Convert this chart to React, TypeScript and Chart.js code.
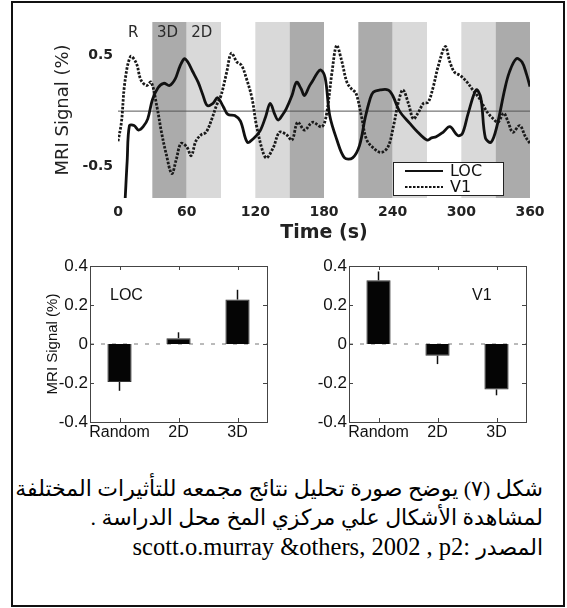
import React, { useEffect, useRef } from "react";
import { Chart, registerables } from "chart.js";

Chart.register(...registerables);
Chart.defaults.font.family = '"Liberation Sans", Arial, sans-serif';

const WIDE = '"DejaVu Sans", "Liberation Sans", sans-serif';

// ---------- Top time-course chart ----------
const timeTicks = [0, 60, 120, 180, 240, 300, 360];
const signalTicks = [-0.5, 0.5];
const blockStarts = [0, 30, 60, 90, 120, 150, 180, 210, 240, 270, 300, 330];
const blockConditions = ["R", "3D", "2D", "R", "2D", "3D", "R", "3D", "2D", "R", "2D", "3D"];
const labelledBlocks = 3;

const locTimes = [0, 5, 8, 10, 14, 18, 22, 26, 30, 35, 40, 45, 50, 54, 58, 61, 65, 70, 74, 78, 83, 87, 92, 96, 102, 107, 113, 118, 124, 129, 133, 137, 140, 144, 147, 152, 156, 160, 163, 167, 170, 174, 177, 181, 185, 191, 198, 205, 211, 216, 220, 223, 229, 236, 240, 246, 255, 262, 270, 274, 278, 284, 290, 297, 301, 306, 313, 317, 321, 326, 331, 338, 342, 348, 353, 357, 360];
const locValues = [-1.6, -1.0, -0.45, -0.13, -0.13, -0.17, -0.14, -0.07, 0.1, 0.21, 0.25, 0.23, 0.29, 0.4, 0.47, 0.44, 0.36, 0.26, 0.15, 0.05, 0.07, 0.12, 0.04, -0.03, -0.04, -0.09, -0.28, -0.25, -0.18, -0.05, 0.07, -0.03, -0.08, -0.03, 0.02, 0.14, 0.26, 0.2, 0.14, 0.22, 0.27, 0.34, 0.37, 0.3, -0.04, -0.25, -0.42, -0.42, -0.31, -0.06, 0.1, 0.17, 0.19, 0.19, 0.14, 0.0, -0.11, -0.19, -0.26, -0.24, -0.23, -0.19, -0.14, -0.22, -0.2, -0.02, 0.19, 0.12, -0.24, -0.28, -0.14, 0.2, 0.35, 0.47, 0.44, 0.33, 0.22];

const v1Times = [0, 3, 6, 11, 16, 20, 25, 29, 34, 38, 42, 47, 51, 55, 60, 64, 68, 73, 77, 82, 86, 90, 95, 99, 104, 108, 112, 117, 121, 127, 130, 136, 141, 147, 152, 157, 163, 170, 178, 182, 187, 191, 195, 200, 204, 208, 213, 217, 223, 230, 236, 241, 245, 249, 254, 258, 262, 267, 271, 275, 280, 286, 290, 294, 299, 305, 310, 316, 322, 328, 332, 337, 341, 345, 351, 356, 360];
const v1Values = [-0.27, -0.1, 0.26, 0.49, 0.43, 0.28, 0.23, 0.26, 0.04, -0.19, -0.38, -0.56, -0.43, -0.29, -0.32, -0.4, -0.27, -0.21, -0.19, -0.07, 0.05, 0.14, 0.35, 0.52, 0.44, 0.41, 0.3, 0.12, -0.13, -0.38, -0.42, -0.32, -0.19, -0.21, -0.26, -0.1, -0.17, -0.1, -0.14, -0.04, 0.35, 0.59, 0.47, 0.26, 0.2, 0.16, -0.06, -0.25, -0.33, -0.37, -0.32, -0.12, 0.08, 0.19, 0.06, -0.07, -0.02, 0.07, 0.08, 0.2, 0.41, 0.58, 0.44, 0.35, 0.32, 0.26, 0.19, 0.11, 0.0, -0.07, -0.1, -0.02, -0.1, -0.19, -0.13, -0.23, -0.29];

// ---------- Bar charts ----------
const barCategories = ["Random", "2D", "3D"];
const barTicks = [-0.4, -0.2, 0, 0.2, 0.4];
const locBarValues = [-0.195, 0.03, 0.228];
const locBarErrors = [0.045, 0.03, 0.05];
const v1BarValues = [0.327, -0.06, -0.233];
const v1BarErrors = [0.045, 0.043, 0.03];

// ---------- Caption ----------
const captionLines = [
  "شكل (٧) يوضح صورة تحليل نتائج مجمعه للتأثيرات المختلفة",
  "لمشاهدة الأشكال علي مركزي المخ محل الدراسة .",
];
const sourceText = "scott.o.murray &others, 2002 , p2: ";
const sourceWord = "المصدر";

const shades: Record<string, string> = { R: "#ffffff", "3D": "#ababab", "2D": "#d9d9d9" };

const bandsPlugin = {
  id: "bands",
  beforeDatasetsDraw(chart: any) {
    const { ctx, chartArea: a, scales } = chart;
    const x = scales.x;
    const y = scales.y;
    ctx.save();
    blockStarts.forEach((s, i) => {
      const e = i + 1 < blockStarts.length ? blockStarts[i + 1] : x.max;
      const x0 = x.getPixelForValue(s);
      const x1 = x.getPixelForValue(e);
      ctx.fillStyle = shades[blockConditions[i]];
      ctx.fillRect(x0, a.top, x1 - x0, a.bottom - a.top);
    });
    const y0 = y.getPixelForValue(0);
    ctx.strokeStyle = "#555";
    ctx.lineWidth = 1;
    ctx.beginPath();
    ctx.moveTo(a.left, y0);
    ctx.lineTo(a.right, y0);
    ctx.stroke();
    ctx.font = "15px " + WIDE;
    ctx.fillStyle = "#2a2a2a";
    ctx.textAlign = "center";
    ctx.textBaseline = "middle";
    for (let i = 0; i < labelledBlocks; i++) {
      const c = (x.getPixelForValue(blockStarts[i]) + x.getPixelForValue(blockStarts[i + 1])) / 2;
      ctx.fillText(blockConditions[i], c - 2, a.top + 11);
    }
    ctx.restore();
  },
};

const legendPlugin = {
  id: "boxLegend",
  afterDatasetsDraw(chart: any) {
    const { ctx, chartArea: a } = chart;
    const w = 110;
    const h = 33;
    const left = a.right - 27 - w;
    const top = a.bottom - 3 - h;
    ctx.save();
    ctx.fillStyle = "#fff";
    ctx.fillRect(left, top, w, h);
    ctx.strokeStyle = "#222";
    ctx.lineWidth = 1;
    ctx.strokeRect(left + 0.5, top + 0.5, w, h);
    ctx.font = "16px " + WIDE;
    ctx.textBaseline = "middle";
    ctx.textAlign = "left";
    chart.data.datasets.forEach((ds: any, i: number) => {
      const yy = top + 9 + i * 16;
      ctx.strokeStyle = "#111";
      ctx.lineWidth = 2;
      ctx.setLineDash(ds.borderDash || []);
      ctx.beginPath();
      ctx.moveTo(left + 12, yy);
      ctx.lineTo(left + 50, yy);
      ctx.stroke();
      ctx.setLineDash([]);
      ctx.fillStyle = "#111";
      ctx.fillText(ds.label, left + 57, yy + 1);
    });
    ctx.restore();
  },
};

function makeFramePlugin(regionName: string, side: "left" | "right", errors: number[]) {
  return {
    id: "frame",
    beforeDatasetsDraw(chart: any) {
      const { ctx, chartArea: a, scales } = chart;
      const y0 = scales.y.getPixelForValue(0);
      ctx.save();
      ctx.strokeStyle = "#777";
      ctx.lineWidth = 1;
      ctx.setLineDash([4, 7]);
      ctx.beginPath();
      ctx.moveTo(a.left, y0);
      ctx.lineTo(a.right, y0);
      ctx.stroke();
      ctx.restore();
    },
    afterDatasetsDraw(chart: any) {
      const { ctx, chartArea: a, scales } = chart;
      const y = scales.y;
      const x = scales.x;
      ctx.save();
      const meta = chart.getDatasetMeta(0);
      const values = chart.data.datasets[0].data as number[];
      ctx.strokeStyle = "#111";
      ctx.lineWidth = 1.5;
      meta.data.forEach((bar: any, i: number) => {
        const v = values[i];
        const end = v + Math.sign(v) * errors[i];
        ctx.beginPath();
        ctx.moveTo(bar.x, y.getPixelForValue(v));
        ctx.lineTo(bar.x, y.getPixelForValue(end));
        ctx.stroke();
      });
      ctx.strokeStyle = "#444";
      ctx.lineWidth = 1;
      ctx.strokeRect(Math.round(a.left) + 0.5, Math.round(a.top) + 0.5, Math.round(a.right - a.left), Math.round(a.bottom - a.top));
      ctx.beginPath();
      barTicks.forEach((v) => {
        const py = Math.round(y.getPixelForValue(v)) + 0.5;
        ctx.moveTo(a.left, py);
        ctx.lineTo(a.left + 4, py);
        ctx.moveTo(a.right - 4, py);
        ctx.lineTo(a.right, py);
      });
      barCategories.forEach((_, i) => {
        const px = Math.round(x.getPixelForTick(i)) + 0.5;
        ctx.moveTo(px, a.bottom);
        ctx.lineTo(px, a.bottom - 4);
        ctx.moveTo(px, a.top);
        ctx.lineTo(px, a.top + 4);
      });
      ctx.stroke();
      ctx.font = '16px "Liberation Sans", Arial, sans-serif';
      ctx.fillStyle = "#111";
      ctx.textBaseline = "middle";
      ctx.textAlign = "left";
      const lx = side === "left" ? a.left + 20 : a.right - 54;
      ctx.fillText(regionName, lx, a.top + 30);
      ctx.restore();
    },
  };
}

function barConfig(values: number[], errors: number[], regionName: string, side: "left" | "right", showTitle: boolean, yWidth: number, padLeft: number, padRight: number): any {
  return {
    type: "bar",
    data: {
      labels: barCategories,
      datasets: [
        {
          label: regionName,
          data: values,
          backgroundColor: "#050505",
          borderColor: "#333",
          borderWidth: 1,
          barPercentage: 0.41,
          categoryPercentage: 1,
        },
      ],
    },
    options: {
      animation: false,
      responsive: true,
      maintainAspectRatio: false,
      layout: { padding: { left: padLeft, right: padRight, top: 16, bottom: 0 } },
      plugins: { legend: { display: false }, tooltip: { enabled: false } },
      scales: {
        x: {
          grid: { display: false, drawTicks: false },
          border: { display: false },
          ticks: { padding: 1, font: { size: 16 }, color: "#111", maxRotation: 0, autoSkip: false },
          afterFit: (s: any) => {
            s.height = 28;
          },
        },
        y: {
          min: -0.4,
          max: 0.4,
          afterBuildTicks: (s: any) => {
            s.ticks = barTicks.map((v) => ({ value: v }));
          },
          grid: { display: false, drawTicks: false },
          border: { display: false },
          ticks: { padding: 2, font: { size: 17 }, color: "#111", callback: (v: any) => String(Math.round(v * 10) / 10) },
          afterFit: (s: any) => {
            s.width = yWidth;
          },
          title: { display: showTitle, text: "MRI Signal (%)", font: { size: 15 }, color: "#111", padding: { top: 5, bottom: 0 } },
        },
      },
    },
    plugins: [makeFramePlugin(regionName, side, errors)],
  };
}

export default function App() {
  const topRef = useRef<HTMLCanvasElement>(null);
  const leftRef = useRef<HTMLCanvasElement>(null);
  const rightRef = useRef<HTMLCanvasElement>(null);

  useEffect(() => {
    const topChart = new Chart(topRef.current!, {
      type: "line",
      data: {
        datasets: [
          {
            label: "LOC",
            data: locTimes.map((t, i) => ({ x: t, y: locValues[i] })),
            borderColor: "#111",
            borderWidth: 2.8,
            pointRadius: 0,
            tension: 0.35,
            fill: false,
          },
          {
            label: "V1",
            data: v1Times.map((t, i) => ({ x: t, y: v1Values[i] })),
            borderColor: "#1a1a1a",
            borderWidth: 2.8,
            borderDash: [2.5, 1.5],
            pointRadius: 0,
            tension: 0.35,
            fill: false,
          },
        ],
      },
      options: {
        animation: false,
        responsive: true,
        maintainAspectRatio: false,
        layout: { padding: { left: 29, right: 30, top: 14, bottom: 5 } },
        plugins: { legend: { display: false }, tooltip: { enabled: false } },
        scales: {
          x: {
            type: "linear",
            min: 0,
            max: 360,
            afterBuildTicks: (s: any) => {
              s.ticks = timeTicks.map((v) => ({ value: v }));
            },
            afterFit: (s: any) => {
              s.height = 50;
            },
            grid: { display: false, drawTicks: false },
            border: { display: false },
            ticks: { padding: 6, font: { size: 14, weight: "bold", family: WIDE }, color: "#222", maxRotation: 0, autoSkip: false, callback: (v: any) => String(v) },
            title: { display: true, text: "Time (s)", font: { size: 19, weight: "bold", family: WIDE }, color: "#222", padding: { top: 0, bottom: 4 } },
          },
          y: {
            min: -0.78,
            max: 0.8,
            afterBuildTicks: (s: any) => {
              s.ticks = signalTicks.map((v) => ({ value: v }));
            },
            afterFit: (s: any) => {
              s.width = 69;
            },
            grid: { display: false, drawTicks: false },
            border: { display: false },
            ticks: { padding: 5, font: { size: 14, weight: "bold", family: WIDE }, color: "#222", callback: (v: any) => String(v) },
            title: { display: true, text: "MRI Signal (%)", font: { size: 18, family: WIDE }, color: "#222", padding: { top: 4, bottom: 0 } },
          },
        },
      } as any,
      plugins: [bandsPlugin, legendPlugin],
    });
    const leftChart = new Chart(leftRef.current!, barConfig(locBarValues, locBarErrors, "LOC", "left", true, 51, 19, 23));
    const rightChart = new Chart(rightRef.current!, barConfig(v1BarValues, v1BarErrors, "V1", "right", false, 40, 19, 34));
    return () => {
      topChart.destroy();
      leftChart.destroy();
      rightChart.destroy();
    };
  }, []);

  const box = (left: number, top: number, width: number, height: number): React.CSSProperties => ({
    position: "absolute",
    left,
    top,
    width,
    height,
  });

  return (
    <div style={{ position: "absolute", left: 0, top: 0, width: 567, height: 608, background: "#fff", overflow: "hidden" }}>
      <div style={{ position: "absolute", left: 11, top: 1, width: 554, height: 606, border: "2px solid #111", boxSizing: "border-box" }} />
      <div style={box(20, 8, 540, 245)}>
        <canvas ref={topRef} />
      </div>
      <div style={box(20, 250, 270, 200)}>
        <canvas ref={leftRef} />
      </div>
      <div style={box(290, 250, 270, 200)}>
        <canvas ref={rightRef} />
      </div>
      <div
        style={{
          position: "absolute",
          top: 474,
          right: 24,
          width: 530,
          textAlign: "right",
          fontFamily: '"Liberation Serif", "DejaVu Sans", serif',
          fontSize: 22,
          lineHeight: "29px",
          color: "#000",
        }}
      >
        {captionLines.map((l, i) => (
          <div key={i} dir="rtl" style={{ whiteSpace: "nowrap" }}>
            {l}
          </div>
        ))}
        <div dir="ltr" style={{ whiteSpace: "nowrap", textAlign: "right" }}>
          <span style={{ fontSize: 24.5 }}>{sourceText}</span>
          <span>{sourceWord}</span>
        </div>
      </div>
    </div>
  );
}
